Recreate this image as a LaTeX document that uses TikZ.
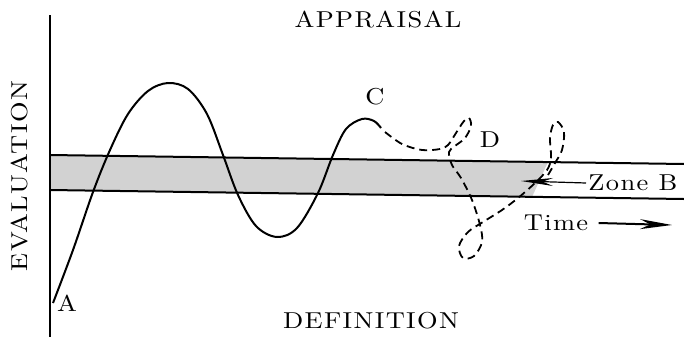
\documentclass[tikz,border=0pt]{standalone}
\usepackage{fontspec}
\newfontfamily\labelfont{lmroman10-regular}[Extension=.otf, FakeStretch=1.15, LetterSpace=6]
\usetikzlibrary{positioning, arrows.meta}

\begin{document}
\begin{tikzpicture}[x=0.5pt, y=-0.5pt,
    every node/.style={inner sep=1pt, font=\labelfont\fontsize{11.5}{13}\selectfont},
    bandline/.style={line width=1pt},
    course/.style={line width=1pt, smooth, tension=0.55},
    drift/.style={line width=0.9pt, dashed, dash pattern=on 4pt off 2.5pt, smooth, tension=0.55}]
    \useasboundingbox (0,0) rectangle (684,337);
    \fill[gray!35] (50,155) -- (548,162) -- (532,197) -- (50,190) -- cycle;
    \draw[bandline] (50,155) -- (684,164);
    \draw[bandline] (50,190) -- (684,199);
    \draw[line width=1pt] (50,15) -- (50,337);
    \node (appraisal) at (378,20) {APPRAISAL};
    \node (definition) at (371,321) {DEFINITION};
    \node[rotate=90] (evaluation) at (20,176) {EVALUATION};
    \node (a) at (67,303) {A};
    \node (c) at (375,97) {C};
    \node (d) at (490,140) {D};
    \node[anchor=west] (zoneb) at (586,183) {Zone B};
    \node (time) at (556,223) {Time};
    \coordinate (zonetip) at (521,181);
    \coordinate (timetip) at (672,225);
    \draw[course] plot coordinates {(53,303) (73,250) (93,192) (110,150) (128,114) (148,91) (168,83)
        (188,89) (207,114) (223,155) (238,195) (256,226) (277,237) (297,228) (318,193) (333,155)
        (346,129) (362,119) (374,121) (381,128)};
    \draw[drift] plot coordinates {(385,132) (402,144) (422,150) (440,149) (448,145) (456,133)
        (464,121) (469,118) (471,126) (465,138) (455,146) (449,152) (452,165) (461,178) (472,200)
        (480,225) (482,242) (474,256) (463,258) (459,246) (468,232) (483,222) (502,210) (518,198)
        (535,183) (547,170) (551,158) (550,138) (553,125) (558,122) (564,132) (562,150) (555,163)
        (548,175)};
    \draw[line width=0.6pt, -{Stealth[length=16pt, width=4pt]}] (zoneb.west) -- (zonetip);
    \draw[line width=1pt, -{Stealth[length=16pt, width=5pt]}] (time.east) ++(4pt,0) coordinate (timefoot) (timefoot) -- (timetip);
\end{tikzpicture}
\end{document}
